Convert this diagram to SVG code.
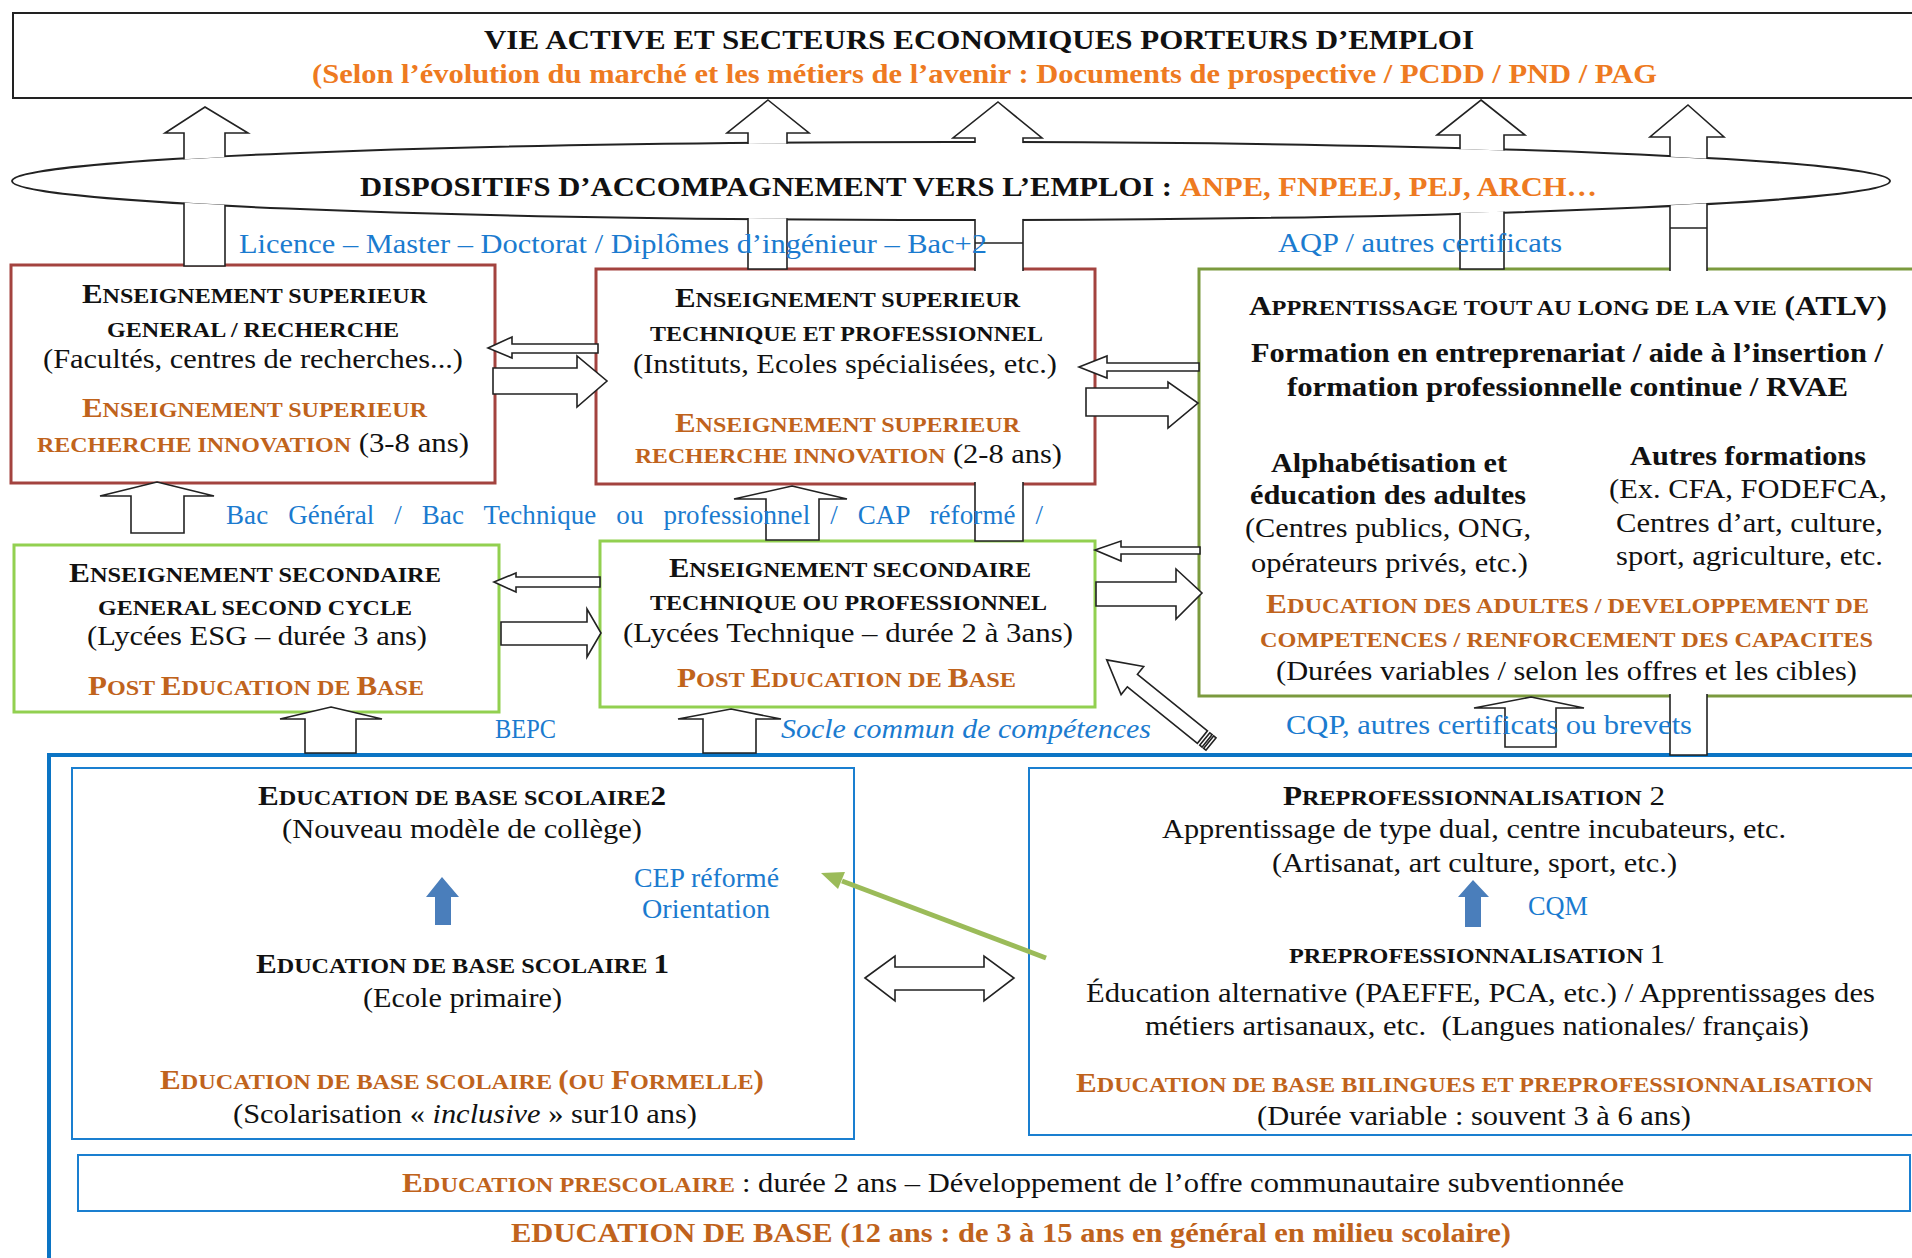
<svg xmlns="http://www.w3.org/2000/svg" width="1912" height="1258" viewBox="0 0 1912 1258">
<style>
text{font-family:"Liberation Serif","Times New Roman",serif;font-size:27px;fill:#111}
.b{font-weight:bold}
.i{font-style:italic}
.sc{font-size:21px}
.big{font-size:28px}
.brown{fill:#C0631C}
.orange{fill:#EE7A21}
.blue{fill:#1B7BCF}
.blk{fill:#111}
.red{fill:#fff;stroke:#A3433F;stroke-width:3}
.lgreen{fill:#fff;stroke:#92D050;stroke-width:3}
.olive{fill:#fff;stroke:#7B9A3E;stroke-width:3}
.bl{fill:none;stroke:#1A7FD0;stroke-width:2}
.ba{fill:#fff;stroke:#222;stroke-width:1.6;stroke-linejoin:miter}
.ln{stroke:#222;stroke-width:1.6;fill:none}
.sb{fill:#4A7EBB}
</style>
<defs>
<mask id="hide" maskUnits="userSpaceOnUse" x="0" y="0" width="1912" height="1258">
<rect x="0" y="0" width="1912" height="1258" fill="#fff"/>
<ellipse cx="951" cy="181" rx="938" ry="38" fill="#000"/>
<rect x="598" y="271" width="495" height="211" fill="#000"/>
<rect x="1201" y="271" width="714" height="423" fill="#000"/>
</mask>
</defs>
<rect width="1912" height="1258" fill="#fff"/>

<g id="nodes">
<g id="vie-active">
<rect x="13" y="13" width="1905" height="85" fill="#fff" stroke="#222" stroke-width="2"/>
<text class="b" x="484" y="49" textLength="990" lengthAdjust="spacingAndGlyphs">VIE ACTIVE ET SECTEURS ECONOMIQUES PORTEURS D’EMPLOI</text>
<text class="b orange" x="312" y="83" textLength="1345" lengthAdjust="spacingAndGlyphs">(Selon l’évolution du marché et les métiers de l’avenir : Documents de prospective / PCDD / PND / PAG</text>
</g>
<g id="dispositifs">
<ellipse cx="951" cy="181" rx="939" ry="39" fill="#fff" stroke="#222" stroke-width="2"/>
<text class="b" x="360" y="196" textLength="812" lengthAdjust="spacingAndGlyphs">DISPOSITIFS D’ACCOMPAGNEMENT VERS L’EMPLOI :</text>
<text class="b orange" x="1180" y="196" textLength="417" lengthAdjust="spacingAndGlyphs">ANPE, FNPEEJ, PEJ, ARCH…</text>
</g>
<g id="sup-general">
<rect class="red" x="11" y="265" width="484" height="218"/>
<text class="b" x="82" y="303" textLength="345" lengthAdjust="spacingAndGlyphs">E<tspan class="sc">NSEIGNEMENT SUPERIEUR</tspan></text>
<text class="b sc" x="107" y="337" textLength="292" lengthAdjust="spacingAndGlyphs">GENERAL / RECHERCHE</text>
<text x="43" y="368" textLength="420" lengthAdjust="spacingAndGlyphs">(Facultés, centres de recherches...)</text>
<text class="b brown" x="82" y="417" textLength="345" lengthAdjust="spacingAndGlyphs">E<tspan class="sc">NSEIGNEMENT SUPERIEUR</tspan></text>
<text x="37" y="452" textLength="432" lengthAdjust="spacingAndGlyphs"><tspan class="b brown sc">RECHERCHE INNOVATION</tspan> (3-8 ans)</text>
</g>
<g id="sup-technique">
<rect class="red" x="596" y="269" width="499" height="215"/>
<text class="b" x="675" y="307" textLength="345" lengthAdjust="spacingAndGlyphs">E<tspan class="sc">NSEIGNEMENT SUPERIEUR</tspan></text>
<text class="b sc" x="650" y="341" textLength="393" lengthAdjust="spacingAndGlyphs">TECHNIQUE ET PROFESSIONNEL</text>
<text x="633" y="373" textLength="424" lengthAdjust="spacingAndGlyphs">(Instituts, Ecoles spécialisées, etc.)</text>
<text class="b brown" x="675" y="432" textLength="345" lengthAdjust="spacingAndGlyphs">E<tspan class="sc">NSEIGNEMENT SUPERIEUR</tspan></text>
<text x="635" y="463" textLength="427" lengthAdjust="spacingAndGlyphs"><tspan class="b brown sc">RECHERCHE INNOVATION</tspan> (2-8 ans)</text>
</g>
<g id="atlv">
<rect class="olive" x="1199" y="269" width="716" height="427"/>
<text class="b" x="1249" y="315" textLength="638" lengthAdjust="spacingAndGlyphs">A<tspan class="sc">PPRENTISSAGE TOUT AU LONG DE LA VIE</tspan> (ATLV)</text>
<text class="b" x="1251" y="362" textLength="632" lengthAdjust="spacingAndGlyphs">Formation en entreprenariat / aide à l’insertion /</text>
<text class="b" x="1287" y="396" textLength="561" lengthAdjust="spacingAndGlyphs">formation professionnelle continue / RVAE</text>
<text class="b" x="1271" y="472" textLength="236" lengthAdjust="spacingAndGlyphs">Alphabétisation et</text>
<text class="b" x="1250" y="504" textLength="276" lengthAdjust="spacingAndGlyphs">éducation des adultes</text>
<text x="1245" y="537" textLength="286" lengthAdjust="spacingAndGlyphs">(Centres publics, ONG,</text>
<text x="1251" y="572" textLength="277" lengthAdjust="spacingAndGlyphs">opérateurs privés, etc.)</text>
<text class="b" x="1630" y="465" textLength="236" lengthAdjust="spacingAndGlyphs">Autres formations</text>
<text x="1609" y="498" textLength="278" lengthAdjust="spacingAndGlyphs">(Ex. CFA, FODEFCA,</text>
<text x="1616" y="532" textLength="267" lengthAdjust="spacingAndGlyphs">Centres d’art, culture,</text>
<text x="1616" y="565" textLength="267" lengthAdjust="spacingAndGlyphs">sport, agriculture, etc.</text>
<text class="b brown" x="1266" y="613" textLength="603" lengthAdjust="spacingAndGlyphs">E<tspan class="sc">DUCATION DES ADULTES / DEVELOPPEMENT DE</tspan></text>
<text class="b brown sc" x="1260" y="647" textLength="613" lengthAdjust="spacingAndGlyphs">COMPETENCES / RENFORCEMENT DES CAPACITES</text>
<text x="1276" y="680" textLength="581" lengthAdjust="spacingAndGlyphs">(Durées variables / selon les offres et les cibles)</text>
</g>
<g id="sec-general">
<rect class="lgreen" x="14" y="545" width="485" height="167"/>
<text class="b" x="69" y="582" textLength="372" lengthAdjust="spacingAndGlyphs">E<tspan class="sc">NSEIGNEMENT SECONDAIRE</tspan></text>
<text class="b sc" x="98" y="615" textLength="314" lengthAdjust="spacingAndGlyphs">GENERAL SECOND CYCLE</text>
<text x="87" y="645" textLength="340" lengthAdjust="spacingAndGlyphs">(Lycées ESG – durée 3 ans)</text>
<text class="b brown" x="88" y="695" textLength="336" lengthAdjust="spacingAndGlyphs">P<tspan class="sc">OST </tspan>E<tspan class="sc">DUCATION DE </tspan>B<tspan class="sc">ASE</tspan></text>
</g>
<g id="sec-technique">
<rect class="lgreen" x="600" y="541" width="495" height="166"/>
<text class="b" x="669" y="577" textLength="362" lengthAdjust="spacingAndGlyphs">E<tspan class="sc">NSEIGNEMENT SECONDAIRE</tspan></text>
<text class="b sc" x="650" y="610" textLength="397" lengthAdjust="spacingAndGlyphs">TECHNIQUE OU PROFESSIONNEL</text>
<text x="623" y="642" textLength="450" lengthAdjust="spacingAndGlyphs">(Lycées Technique – durée 2 à 3ans)</text>
<text class="b brown" x="677" y="687" textLength="339" lengthAdjust="spacingAndGlyphs">P<tspan class="sc">OST </tspan>E<tspan class="sc">DUCATION DE </tspan>B<tspan class="sc">ASE</tspan></text>
</g>
<g id="education-base">
<rect x="49" y="755" width="1870" height="510" fill="none" stroke="#0B74C4" stroke-width="4"/>
<text class="b brown" x="511" y="1242" textLength="1000" lengthAdjust="spacingAndGlyphs">EDUCATION DE BASE (12 ans : de 3 à 15 ans en général en milieu scolaire)</text>
</g>
<g id="base-scolaire">
<rect class="bl" x="72" y="768" width="782" height="371"/>
<text class="b" x="258" y="805" textLength="408" lengthAdjust="spacingAndGlyphs">E<tspan class="sc">DUCATION DE BASE SCOLAIRE</tspan>2</text>
<text x="282" y="838" textLength="360" lengthAdjust="spacingAndGlyphs">(Nouveau modèle de collège)</text>
<text class="blue" x="634" y="887" textLength="145" lengthAdjust="spacingAndGlyphs">CEP réformé</text>
<text class="blue" x="642" y="918" textLength="128" lengthAdjust="spacingAndGlyphs">Orientation</text>
<text class="b" x="256" y="973" textLength="413" lengthAdjust="spacingAndGlyphs">E<tspan class="sc">DUCATION DE BASE SCOLAIRE </tspan>1</text>
<text x="363" y="1007" textLength="199" lengthAdjust="spacingAndGlyphs">(Ecole primaire)</text>
<text class="b brown" x="160" y="1089" textLength="604" lengthAdjust="spacingAndGlyphs">E<tspan class="sc">DUCATION DE BASE SCOLAIRE </tspan>(<tspan class="sc">OU </tspan>F<tspan class="sc">ORMELLE</tspan>)</text>
<text x="233" y="1123" textLength="464" lengthAdjust="spacingAndGlyphs">(Scolarisation « <tspan class="i">inclusive</tspan> » sur10 ans)</text>
</g>
<g id="preprofessionnalisation">
<rect class="bl" x="1029" y="768" width="890" height="367"/>
<text class="b" x="1283" y="805" textLength="382" lengthAdjust="spacingAndGlyphs">P<tspan class="sc">REPROFESSIONNALISATION</tspan><tspan font-weight="normal"> 2</tspan></text>
<text x="1162" y="838" textLength="624" lengthAdjust="spacingAndGlyphs">Apprentissage de type dual, centre incubateurs, etc.</text>
<text x="1272" y="872" textLength="405" lengthAdjust="spacingAndGlyphs">(Artisanat, art culture, sport, etc.)</text>
<text class="blue" x="1528" y="915" textLength="60" lengthAdjust="spacingAndGlyphs">CQM</text>
<text class="b" x="1289" y="963" textLength="376" lengthAdjust="spacingAndGlyphs"><tspan class="sc">PREPROFESSIONNALISATION </tspan><tspan font-weight="normal">1</tspan></text>
<text x="1086" y="1002" textLength="789" lengthAdjust="spacingAndGlyphs">Éducation alternative (PAEFFE, PCA, etc.) / Apprentissages des</text>
<text x="1145" y="1035" textLength="664" lengthAdjust="spacingAndGlyphs">métiers artisanaux, etc. &#160;(Langues nationales/ français)</text>
<text class="b brown" x="1076" y="1092" textLength="797" lengthAdjust="spacingAndGlyphs">E<tspan class="sc">DUCATION DE BASE BILINGUES ET PREPROFESSIONNALISATION</tspan></text>
<text x="1257" y="1125" textLength="434" lengthAdjust="spacingAndGlyphs">(Durée variable : souvent 3 à 6 ans)</text>
</g>
<g id="prescolaire">
<rect class="bl" x="78" y="1155" width="1832" height="56"/>
<text class="b brown" x="402" y="1192" textLength="333" lengthAdjust="spacingAndGlyphs">E<tspan class="sc">DUCATION PRESCOLAIRE</tspan></text>
<text x="742" y="1192" textLength="882" lengthAdjust="spacingAndGlyphs">: durée 2 ans – Développement de l’offre communautaire subventionnée</text>
</g>
</g>

<g id="connectors">
<g mask="url(#hide)">
<polygon class="ba" points="205,107 248,133 225,133 225,266 184,266 184,133 165,133"/>
<polygon class="ba" points="768,100 809,133 787,133 787,269 748,269 748,133 727,133"/>
<polygon class="ba" points="998,102 1042,138 1023,138 1023,541 975,541 975,138 953,138"/>
<line class="ln" x1="975" y1="243" x2="1023" y2="243"/>
<polygon class="ba" points="1481,100 1525,135 1504,135 1504,269 1460,269 1460,135 1437,135"/>
<polygon class="ba" points="1688,105 1724,137 1707,137 1707,755 1670,755 1670,137 1650,137"/>
<line class="ln" x1="1670" y1="228" x2="1707" y2="228"/>
</g>
<polygon class="ba" points="157,482 214,496 184,496 184,533 131,533 131,496 100,496"/>
<polygon class="ba" points="792,486 847,499 819,499 819,540 766,540 766,499 734,499"/>
<polygon class="ba" points="331,707 382,719 356,719 356,753 305,753 305,719 280,719"/>
<polygon class="ba" points="731,709 781,719 756,719 756,753 703,753 703,719 678,719"/>
<polygon class="ba" points="1531,697 1584,708 1556,708 1556,747 1505,747 1505,708 1474,708"/>
<polygon class="ba" points="488,348 512,337 512,344 598,344 598,353 512,353 512,358"/>
<polygon class="ba" points="493,368 577,368 577,356 607,381 577,407 577,394 493,394"/>
<polygon class="ba" points="1079,367 1107,356 1107,363 1199,363 1199,371 1107,371 1107,378"/>
<polygon class="ba" points="1086,388 1168,388 1168,382 1198,403 1168,428 1168,416 1086,416"/>
<polygon class="ba" points="494,582 516,573 516,577 600,577 600,587 516,587 516,592"/>
<polygon class="ba" points="501,622 587,622 587,609 601,633 587,657 587,645 501,645"/>
<polygon class="ba" points="1095,550 1121,541 1121,547 1200,547 1200,554 1121,554 1121,561"/>
<polygon class="ba" points="1096,582 1176,582 1176,569 1202,593 1176,619 1176,606 1096,606"/>
<g transform="translate(1211,744) rotate(218.9)">
<rect class="ba" x="0" y="-8" width="3" height="16"/>
<rect class="ba" x="5" y="-8" width="3" height="16"/>
<polygon class="ba" points="11,-8 101,-8 101,-18 134,0 101,18 101,8 11,8"/>
</g>
<polygon class="ba" points="865,978 895,956 895,967 984,967 984,956 1014,978 984,1001 984,990 895,990 895,1001"/>
<line x1="1046" y1="958" x2="842" y2="881" stroke="#9BBB59" stroke-width="5"/>
<polygon points="821,873 845,872 838,889" fill="#9BBB59"/>
<polygon class="sb" points="442,877 459,897 451,897 451,925 435,925 435,897 426,897"/>
<polygon class="sb" points="1473,880 1489,897 1481,897 1481,927 1465,927 1465,897 1458,897"/>
</g>

<g id="labels">
<text class="blue" x="239" y="253" textLength="748" lengthAdjust="spacingAndGlyphs">Licence – Master – Doctorat / Diplômes d’ingénieur – Bac+2</text>
<text class="blue" x="1278" y="252" textLength="284" lengthAdjust="spacingAndGlyphs">AQP / autres certificats</text>
<text class="blue" x="226" y="524" word-spacing="13" textLength="817" lengthAdjust="spacing">Bac Général / Bac Technique ou professionnel / CAP réformé /</text>
<text class="blue" x="495" y="738" textLength="61" lengthAdjust="spacingAndGlyphs">BEPC</text>
<text class="blue i" x="781" y="738" textLength="370" lengthAdjust="spacingAndGlyphs">Socle commun de compétences</text>
<text class="blue" x="1286" y="734" textLength="406" lengthAdjust="spacingAndGlyphs">CQP, autres certificats ou brevets</text>
</g>
</svg>
